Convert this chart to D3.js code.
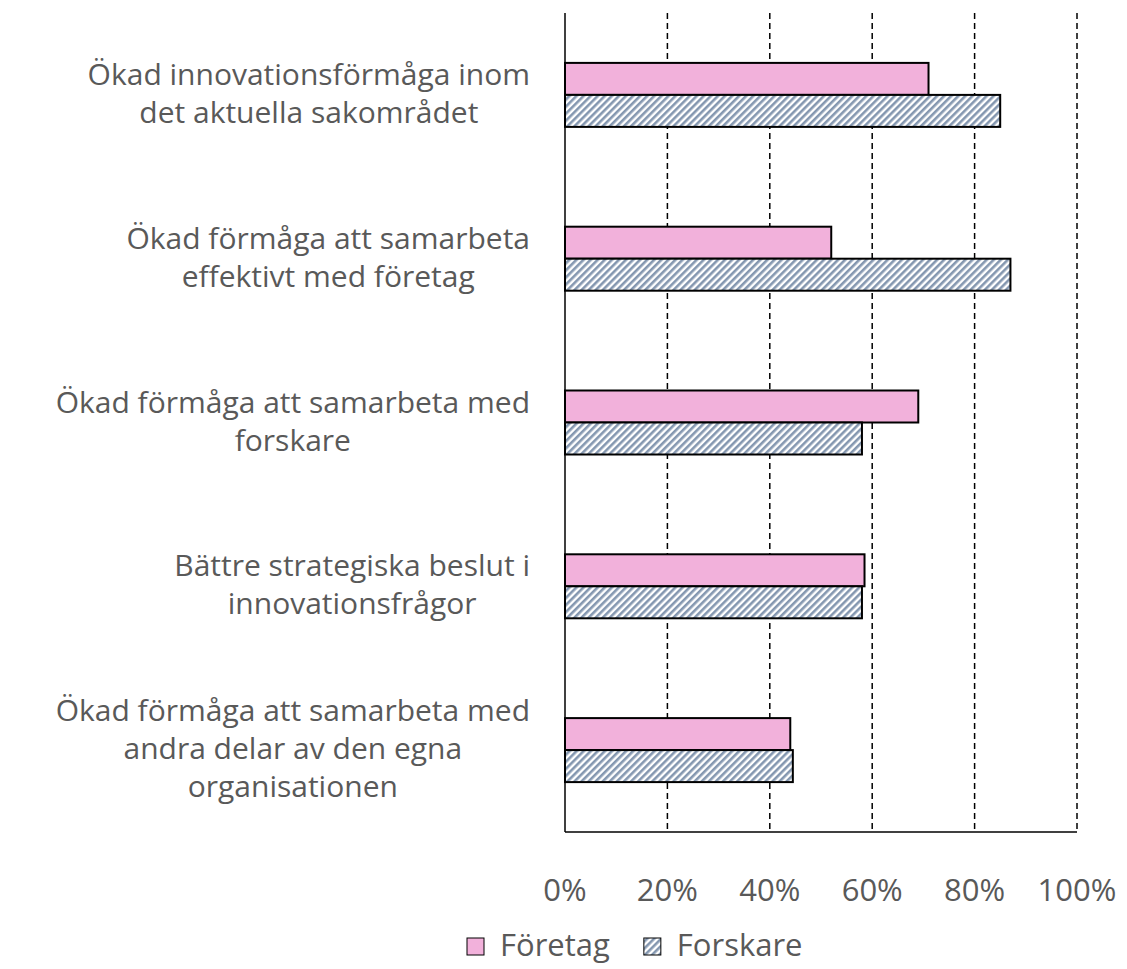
<!DOCTYPE html>
<html>
<head>
<meta charset="utf-8">
<script src="https://cdn.jsdelivr.net/npm/d3@7"></script>
<style>
  body { margin: 0; background: #fff; }
  text { font-family: "Open Sans", sans-serif; fill: #595959; }
</style>
</head>
<body>
<svg></svg>
<script>
// chart data
const categories = [
    ["Ökad innovationsförmåga inom", "det aktuella sakområdet"],
    ["Ökad förmåga att samarbeta", "effektivt med företag"],
    ["Ökad förmåga att samarbeta med", "forskare"],
    ["Bättre strategiska beslut i", "innovationsfrågor"],
    ["Ökad förmåga att samarbeta med", "andra delar av den egna", "organisationen"]
];
const seriesNames = ["Företag", "Forskare"];
const foretag = [71, 52, 69, 58.5, 44];
const forskare = [85, 87, 58, 58, 44.5];
const tickValues = [0, 20, 40, 60, 80, 100];

const width = 1127;
const height = 969;
const marginTop = 13;
const marginBottom = 137;
const marginLeft = 565;
const marginRight = 50;
const barH = 32;
const fontSize = 30;

const svg = d3.select("svg")
    .attr("width", width)
    .attr("height", height)
    .attr("viewBox", [0, 0, width, height]);

// hatch pattern for Forskare
const defs = svg.append("defs");
const pat = defs.append("pattern")
    .attr("id", "hatch")
    .attr("patternUnits", "userSpaceOnUse")
    .attr("width", 5)
    .attr("height", 5)
    .attr("patternTransform", "rotate(45)");
pat.append("rect").attr("width", 5).attr("height", 5).attr("fill", "#fff");
pat.append("rect").attr("width", 2.6).attr("height", 5).attr("fill", "#8497B0");

const x = d3.scaleLinear()
    .domain([0, 100])
    .range([marginLeft, width - marginRight]);

const y = d3.scaleBand()
    .domain(d3.range(categories.length))
    .range([marginTop, height - marginBottom]);

const sub = d3.scaleBand()
    .domain(seriesNames)
    .range([y.bandwidth() / 2 - barH, y.bandwidth() / 2 + barH]);

const color = { "Företag": "#F2B1DB", "Forskare": "url(#hatch)" };

// gridlines
svg.append("g")
    .selectAll("line")
    .data(tickValues.slice(1))
    .join("line")
    .attr("x1", d => x(d))
    .attr("x2", d => x(d))
    .attr("y1", marginTop)
    .attr("y2", height - marginBottom)
    .attr("stroke", "#000")
    .attr("stroke-width", 1.5)
    .attr("stroke-dasharray", "6,4");

// bars
const rows = categories.map((c, i) => ({ i, values: [foretag[i], forskare[i]] }));
svg.append("g")
    .selectAll("g")
    .data(rows)
    .join("g")
    .attr("transform", d => `translate(0,${y(d.i)})`)
    .selectAll("rect")
    .data(d => d.values.map((v, k) => ({ key: seriesNames[k], v })))
    .join("rect")
    .attr("x", x(0))
    .attr("y", d => sub(d.key))
    .attr("width", d => x(d.v) - x(0))
    .attr("height", sub.bandwidth())
    .attr("fill", d => color[d.key])
    .attr("stroke", "#000")
    .attr("stroke-width", 2);

// axes lines
svg.append("line")
    .attr("x1", x(0)).attr("x2", x(0))
    .attr("y1", marginTop).attr("y2", height - marginBottom)
    .attr("stroke", "#000").attr("stroke-width", 1.5);
svg.append("line")
    .attr("x1", x(0)).attr("x2", x(100))
    .attr("y1", height - marginBottom).attr("y2", height - marginBottom)
    .attr("stroke", "#000").attr("stroke-width", 1.5);

// tick labels
svg.append("g")
    .selectAll("text")
    .data(tickValues)
    .join("text")
    .attr("x", d => x(d))
    .attr("y", 901)
    .attr("text-anchor", "middle")
    .attr("font-size", 31)
    .text(d => d + "%");

// category labels: block right aligned, lines centered
const lineH = 38;
categories.forEach((lines, i) => {
    const g = svg.append("g");
    const texts = g.selectAll("text")
        .data(lines)
        .join("text")
        .attr("font-size", fontSize)
        .attr("text-anchor", "middle")
        .text(d => d);
    let maxW = 0;
    texts.each(function () { maxW = Math.max(maxW, this.getComputedTextLength()); });
    const cx = 530 - maxW / 2;
    const cy = y(i) + y.bandwidth() / 2;
    const y0 = cy - (lines.length - 1) * lineH / 2 + 9;
    texts.attr("x", cx).attr("y", (d, k) => y0 + k * lineH);
});

// legend
const legend = svg.append("g");
let lx = 467;
seriesNames.forEach(name => {
    legend.append("rect")
        .attr("x", lx).attr("y", 938)
        .attr("width", 17).attr("height", 17)
        .attr("fill", color[name])
        .attr("stroke", "#000")
        .attr("stroke-width", 1);
    const t = legend.append("text")
        .attr("x", lx + 17 + 16).attr("y", 956)
        .attr("font-size", 31)
        .text(name);
    lx += 17 + 16 + t.node().getComputedTextLength() + 34;
});
</script>
</body>
</html>
